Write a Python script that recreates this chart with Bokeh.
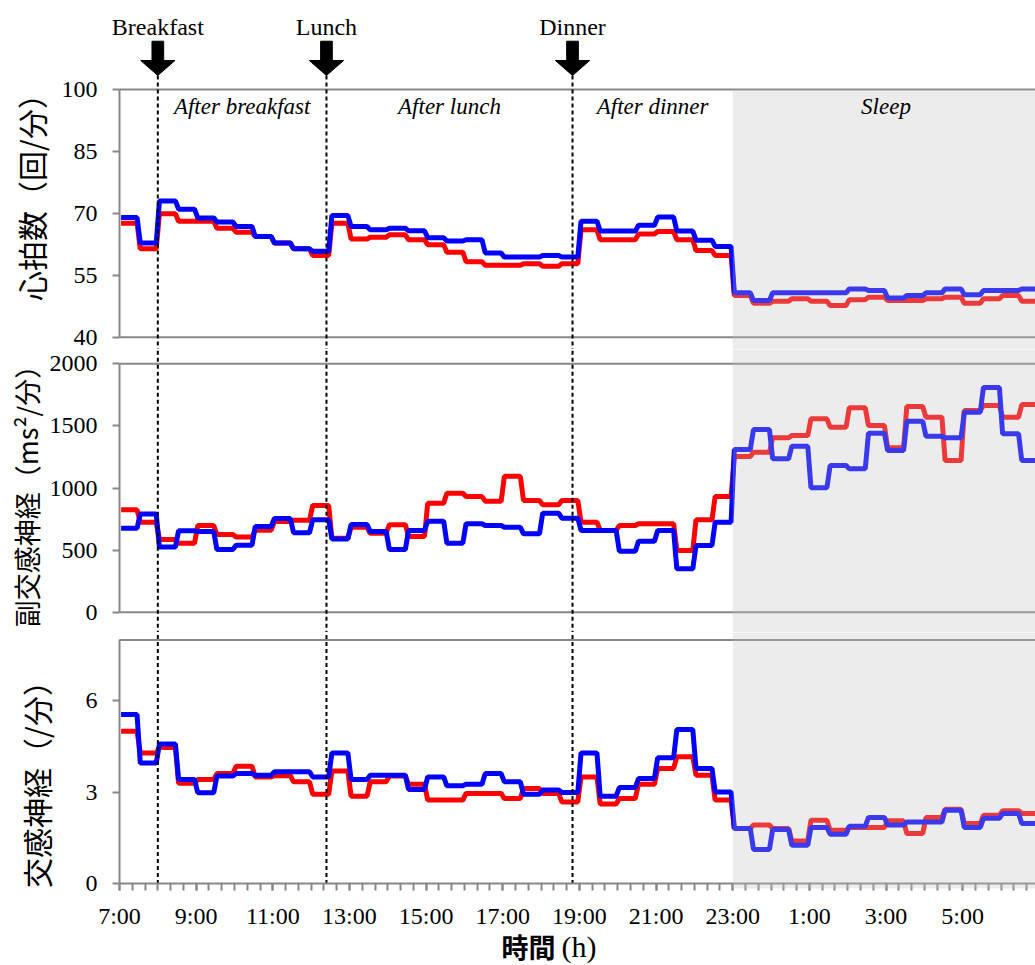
import numpy as np
from bokeh.plotting import figure
from bokeh.layouts import column
from bokeh.models import Range1d, FixedTicker, BoxAnnotation, Label
from bokeh.embed import file_html
from bokeh.resources import INLINE

# ---------------------------------------------------------------
# Half-hourly averages from 7:00 until 6:30 the next morning
# (hours are counted past midnight of day one, so 25 = 1:00).
# ---------------------------------------------------------------
first_block_hour = 7.0
block_hours = 0.5

hr_red = [67.6, 61.4, 69.9, 68.1, 68.1, 66.4, 65.4, 64.4, 62.8, 61.4, 59.8, 67.6,
          63.8, 64.2, 64.8, 63.6, 62.4, 60.6, 58.3, 57.4, 57.4, 57.8, 57.2, 57.8,
          66.0, 63.6, 63.6, 65.0, 65.6, 63.6, 61.0, 59.8, 50.1, 48.2, 48.7, 49.3,
          48.7, 47.7, 49.1, 49.7, 48.9, 48.9, 49.3, 49.7, 48.2, 49.3, 50.1, 48.7]
hr_blue = [69.0, 62.8, 73.0, 71.0, 68.9, 67.9, 66.8, 64.4, 62.8, 61.4, 60.8, 69.5,
           66.8, 66.0, 66.4, 65.8, 64.1, 63.3, 63.6, 60.4, 59.4, 59.4, 59.8, 59.4,
           68.1, 65.7, 65.7, 67.1, 69.1, 65.7, 63.5, 62.0, 50.75, 48.9, 50.75, 50.75,
           50.75, 50.75, 51.7, 51.3, 49.5, 50.1, 50.75, 51.7, 50.3, 51.3, 51.3, 51.7]

pns_red = [824, 725, 585, 556, 698, 625, 605, 660, 730, 740, 860, 595,
           684, 636, 705, 609, 878, 958, 931, 894, 1095, 899, 865, 899,
           725, 658, 698, 712, 712, 497, 744, 931, 1254, 1288, 1404, 1423,
           1557, 1490, 1646, 1503, 1324, 1656, 1570, 1221, 1624, 1664, 1570, 1672]
pns_blue = [676, 790, 525, 655, 650, 505, 540, 690, 755, 640, 745, 590,
            706, 650, 505, 658, 733, 556, 712, 698, 684, 631, 797, 757,
            658, 658, 491, 572, 658, 349, 537, 725, 1310, 1470, 1235, 1337,
            1002, 1181, 1154, 1441, 1302, 1538, 1417, 1404, 1610, 1810, 1436, 1221]

sns_red = [5.00, 4.29, 4.47, 3.29, 3.42, 3.61, 3.85, 3.50, 3.54, 3.34, 2.93, 3.70,
           2.87, 3.34, 3.53, 3.26, 2.74, 2.74, 2.96, 2.96, 2.79, 3.12, 2.96, 2.68,
           3.50, 2.61, 2.79, 3.26, 3.78, 4.16, 3.56, 2.74, 1.81, 1.92, 1.81, 1.40,
           2.08, 1.75, 1.84, 1.84, 2.06, 1.64, 2.17, 2.44, 1.97, 2.24, 2.39, 2.30]
sns_blue = [5.55, 3.96, 4.58, 3.42, 2.98, 3.53, 3.61, 3.56, 3.67, 3.67, 3.50, 4.29,
            3.42, 3.56, 3.56, 3.09, 3.50, 3.21, 3.26, 3.61, 3.34, 2.93, 3.07, 2.99,
            4.29, 2.87, 3.15, 3.45, 4.13, 5.06, 3.78, 3.01, 1.81, 1.12, 1.77, 1.26,
            1.84, 1.62, 1.88, 2.17, 1.92, 2.02, 2.02, 2.41, 1.84, 2.14, 2.30, 1.97]

meal_names = ["Breakfast", "Lunch", "Dinner"]
meal_hours = [8.0, 12.4, 18.82]
phase_names = ["After breakfast", "After lunch", "After dinner", "Sleep"]
phase_edges = [8.0, 12.4, 18.82, 23.0, 31.0]
sleep_start = 23.0

x_tick_hours = [7, 9, 11, 13, 15, 17, 19, 21, 23, 25, 27, 29]
x_tick_labels = ["7:00", "9:00", "11:00", "13:00", "15:00", "17:00",
                 "19:00", "21:00", "23:00", "1:00", "3:00", "5:00"]
hr_ticks = [40, 55, 70, 85, 100]
pns_ticks = [0, 500, 1000, 1500, 2000]
sns_ticks = [0, 3, 6]

# ---------------------------------------------------------------
# styling / layout
# ---------------------------------------------------------------
RED = "#ff0000"
BLUE = "#0000ff"
AXIS_GRAY = "#878787"
SERIF = "Liberation Serif"
CJK = "Noto Sans CJK JP"
WIDTH = 1035
AXIS_PX = 119                      # pixel column of the 7:00 axis
X_START_DATA, X_END = 7.0, 30.9
PX_PER_HOUR = (WIDTH - AXIS_PX) / (X_END - X_START_DATA)
x_range = Range1d(X_START_DATA - AXIS_PX / PX_PER_HOUR, X_END)


def stepped(values):
    """Each half-hour value is held flat across its block, with a short
    5-minute transition into the next block."""
    xs, ys = [], []
    for i, v in enumerate(values):
        t = first_block_hour + i * block_hours
        xs += [t + 2.5 / 60, t + 27.5 / 60]
        ys += [v, v]
    return xs, ys


def make_panel(height, y_range, ticks, bounds, rules, with_x_axis=False):
    p = figure(width=WIDTH, height=height, x_range=x_range, y_range=y_range,
               output_backend="svg", toolbar_location=None,
               x_axis_location="below" if with_x_axis else None,
               min_border_left=0, min_border_right=0, min_border_top=0,
               min_border_bottom=0)
    p.outline_line_color = None
    p.xgrid.visible = False
    p.ygrid.visible = False
    p.background_fill_color = "white"
    p.border_fill_color = "white"

    ax = p.yaxis[0]
    ax.fixed_location = X_START_DATA
    ax.ticker = FixedTicker(ticks=ticks)
    ax.bounds = bounds
    ax.axis_line_color = AXIS_GRAY
    ax.axis_line_width = 2
    ax.major_tick_line_color = AXIS_GRAY
    ax.major_tick_line_width = 2
    ax.major_tick_out = 7
    ax.major_tick_in = 0
    ax.minor_tick_line_color = None
    ax.major_label_standoff = 15
    ax.major_label_text_font = SERIF
    ax.major_label_text_font_size = "24px"
    ax.major_label_text_color = "black"

    # panel frame rules (top / bottom edges of each panel)
    p.segment(x0=[X_START_DATA] * len(rules), y0=rules,
              x1=[X_END + 1] * len(rules), y1=rules,
              line_color=AXIS_GRAY, line_width=2)
    return p


def add_series(p, red_vals, blue_vals):
    xr_, yr_ = stepped(red_vals)
    xb_, yb_ = stepped(blue_vals)
    p.line(xr_, yr_, line_color=RED, line_width=5)
    p.line(xb_, yb_, line_color=BLUE, line_width=5)


def add_meal_guides(p, y_low, y_high):
    n = len(meal_hours)
    p.segment(x0=meal_hours, y0=[y_high] * n, x1=meal_hours, y1=[y_low] * n,
              line_color="black", line_width=2, line_dash="4 3")


def add_sleep_shade(p, top, bottom):
    p.add_layout(BoxAnnotation(left=sleep_start, right=X_END + 5,
                               top=top, bottom=bottom,
                               fill_color="#bfbfbf", fill_alpha=0.3,
                               line_color=None))


def add_axis_title(p, text, sx, sy, size="30px"):
    p.add_layout(Label(x=sx, y=sy, x_units="screen", y_units="screen",
                       text=text, angle=90, angle_units="deg",
                       text_align="center", text_baseline="middle",
                       text_font=CJK, text_font_size=size,
                       text_color="black"))


# ---------------- panel 1 : heart rate ----------------
HR_PX = 247.7 / 60.0          # pixels per beat/min
p1 = make_panel(349, Range1d(37.02, 121.56), hr_ticks, (40, 100), [40, 100])
add_series(p1, hr_red, hr_blue)

tip_y = 100 + 14.0 / HR_PX
head_y = 100 + 29.0 / HR_PX
shaft_y = 100 + 48.3 / HR_PX
shaft_hw = 5.85 / PX_PER_HOUR
head_hw = 17.15 / PX_PER_HOUR
add_meal_guides(p1, 30, tip_y)
arrow_xs, arrow_ys = [], []
for m in meal_hours:
    arrow_xs.append([m - shaft_hw, m + shaft_hw, m + shaft_hw, m + head_hw,
                     m, m - head_hw, m - shaft_hw])
    arrow_ys.append([shaft_y, shaft_y, head_y, head_y, tip_y, head_y, head_y])
p1.patches(arrow_xs, arrow_ys, fill_color="black", line_color="black")

add_sleep_shade(p1, top=100, bottom=0)

for name, m in zip(meal_names, meal_hours):
    p1.add_layout(Label(x=m, y=100 + 63.0 / HR_PX, text=name,
                        text_align="center", text_baseline="alphabetic",
                        text_font=SERIF, text_font_size="24px",
                        text_color="black"))
for i, name in enumerate(phase_names):
    centre = 0.5 * (phase_edges[i] + phase_edges[i + 1])
    p1.add_layout(Label(x=centre, y=100 - 17.0 / HR_PX, text=name,
                        text_align="center", text_baseline="alphabetic",
                        text_font=SERIF, text_font_style="italic",
                        text_font_size="23px", text_color="black"))
add_axis_title(p1, "心拍数（回/分）", 30, 159.5)

# ---------------- panel 2 : parasympathetic ----------------
p2 = make_panel(283, Range1d(-163.4, 2115.1), pns_ticks, (0, 2000), [0, 2000])
add_series(p2, pns_red, pns_blue)
add_meal_guides(p2, -500, 2500)
add_sleep_shade(p2, top=5000, bottom=-5000)
add_axis_title(p2, "副交感神経（ms²/分）", 25.5, 143, size="27px")

# ---------------- panel 3 : sympathetic ----------------
SNS_PX = 30.44                # pixels per count/min
p3 = make_panel(333, Range1d(-82.0 / SNS_PX, 8.246), sns_ticks, (0, 8), [8],
                with_x_axis=True)
add_series(p3, sns_red, sns_blue)
add_meal_guides(p3, 0, 10)
add_sleep_shade(p3, top=50, bottom=-5.0 / SNS_PX)
add_axis_title(p3, "交感神経（/分）", 35, 188.5)

xax = p3.xaxis[0]
xax.fixed_location = 0
xax.bounds = (X_START_DATA, X_END + 1)
minor = [first_block_hour + k / 3.0 for k in range(73)]
xax.ticker = FixedTicker(ticks=x_tick_hours, minor_ticks=minor)
xax.major_label_overrides = dict(zip(x_tick_hours, x_tick_labels))
xax.axis_line_color = AXIS_GRAY
xax.axis_line_width = 2
xax.major_tick_line_color = AXIS_GRAY
xax.major_tick_line_width = 2
xax.minor_tick_line_color = AXIS_GRAY
xax.minor_tick_line_width = 2
xax.major_tick_out = 7
xax.major_tick_in = 0
xax.minor_tick_out = 7
xax.minor_tick_in = 0
xax.major_label_standoff = 12
xax.major_label_text_font = SERIF
xax.major_label_text_font_size = "24px"
xax.major_label_text_color = "black"

p3.add_layout(Label(x=555, y=19, x_units="screen", y_units="screen",
                    text="時間", text_align="right", text_baseline="alphabetic",
                    text_font=CJK, text_font_style="bold",
                    text_font_size="27px", text_color="black"))
p3.add_layout(Label(x=561, y=19, x_units="screen", y_units="screen",
                    text="(h)", text_align="left", text_baseline="alphabetic",
                    text_font=SERIF, text_font_size="30px", text_color="black"))

layout = column(p1, p2, p3, spacing=0)
open("out.html", "w").write(file_html(layout, INLINE))
